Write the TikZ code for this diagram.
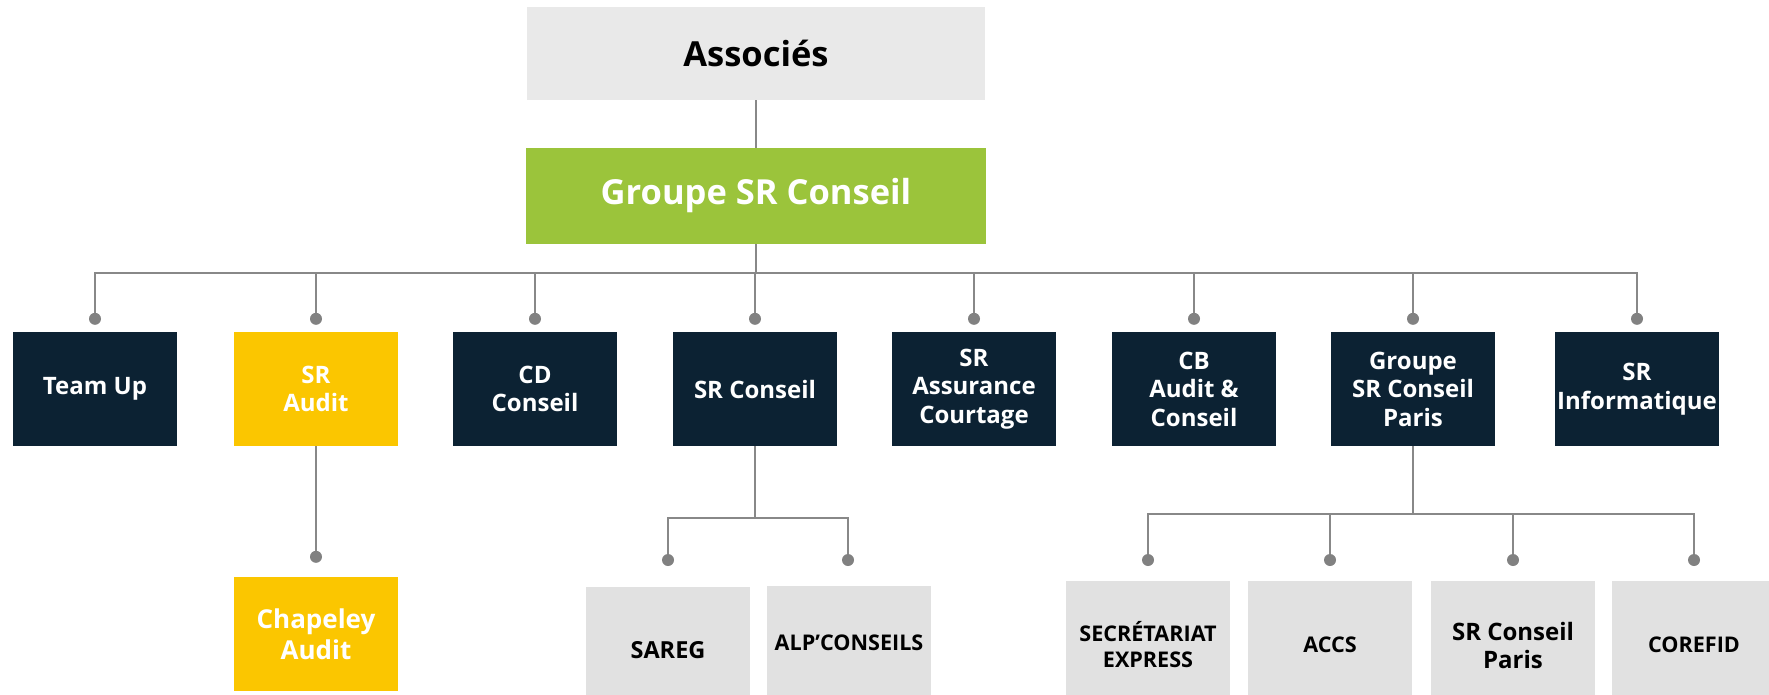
\documentclass[tikz,border=0pt]{standalone}
\usepackage{fontspec}
\setmainfont{Open Sans}
\definecolor{navy}{HTML}{0C2233}
\definecolor{sryellow}{HTML}{FBC600}
\definecolor{srgreen}{HTML}{9BC43B}
\definecolor{topgray}{HTML}{E9E9E9}
\definecolor{subgray}{HTML}{E1E1E1}
\definecolor{linegray}{HTML}{888888}
\definecolor{dotgray}{HTML}{818181}
\begin{document}
\begin{tikzpicture}[x=1pt,y=-1pt,
  box/.style={rectangle, inner sep=0pt, minimum width=164pt, minimum height=114pt, align=center,
    font=\bfseries\fontsize{24}{28.5}\selectfont},
  navybox/.style={box, fill=navy, text=white},
  yellowbox/.style={box, fill=sryellow, text=white},
  subbox/.style={box, fill=subgray, text=black, font=\bfseries\fontsize{21.6}{26}\selectfont},
  bigbox/.style={rectangle, inner sep=0pt, align=center, font=\bfseries\fontsize{34.5}{40}\selectfont},
  conn/.style={draw=linegray, line width=2.8pt},
  dot/.style={circle, fill=dotgray, inner sep=0pt, minimum size=12pt}]
\useasboundingbox (0,0) rectangle (1769,694);
\clip (0,0) rectangle (1769,694);

% top
\node[bigbox, fill=topgray, text=black, minimum width=458pt, minimum height=93pt] (assoc) at (756,53.5) {Associés};
\node[bigbox, fill=srgreen, text=white, minimum width=460pt, minimum height=96pt] (groupe) at (756,196) {Groupe SR Conseil};

% row 1
\node[navybox] (teamup) at (95,389) {Team Up};
\node[yellowbox] (sraudit) at (316,389) {SR\\Audit};
\node[navybox] (cdconseil) at (535,389) {CD\\Conseil};
\node[navybox] (srconseil) at (755,389) {SR Conseil};
\node[navybox] (srassur) at (974,389) {SR\\Assurance\\Courtage};
\node[navybox] (cbaudit) at (1194,389) {CB\\Audit \&\\Conseil};
\node[navybox] (gparis) at (1413,389) {Groupe\\SR Conseil\\Paris};
\node[navybox] (srinfo) at (1637,389) {SR\\Informatique};

% row 2
\node[yellowbox, font=\bfseries\fontsize{26}{31}\selectfont] (chapeley) at (316,634) {Chapeley\\Audit};
\node[subbox, minimum height=127pt, font=\bfseries\fontsize{23.5}{28}\selectfont] (sareg) at (668,650) {SAREG};
\node[subbox, minimum height=113pt] (alp) at (849,642.5) {ALP’CONSEILS};
\node[subbox, minimum height=128pt] (secret) at (1148,645) {SECRÉTARIAT\\EXPRESS};
\node[subbox, minimum height=128pt] (accs) at (1330,645) {ACCS};
\node[subbox, minimum height=128pt, font=\bfseries\fontsize{24}{28}\selectfont] (srcparis) at (1513,645) {SR Conseil\\Paris};
\node[subbox, minimum height=128pt] (corefid) at (1694,645) {COREFID};

% dots
\foreach \n in {teamup,sraudit,cdconseil,srconseil,srassur,cbaudit,gparis,srinfo}
  \node[dot] (dot-\n) at ([yshift=13pt]\n.north) {};
\node[dot] (dot-chapeley) at ([yshift=20pt]chapeley.north) {};
\node[dot] (dot-sareg) at (668,560) {};
\node[dot] (dot-alp) at (848,560) {};
\foreach \n in {secret,accs,srcparis,corefid}
  \node[dot] (dot-\n) at (\n.north |- 0,560) {};

% buses
\coordinate (bus) at (755,273);
\coordinate (busA) at (755,518);
\coordinate (busB) at (1413,514);

% connectors
\draw[conn] (assoc) -- (groupe);
\draw[conn] (groupe.south) -- (groupe.south |- bus);
\draw[conn] (dot-teamup) |- (bus) -| (dot-srinfo);
\foreach \n in {sraudit,cdconseil,srconseil,srassur,cbaudit,gparis}
  \draw[conn] (dot-\n |- bus) -- (dot-\n);
\draw[conn] (sraudit) -- (dot-chapeley);
\draw[conn] (srconseil.south) -- (busA);
\draw[conn] (dot-sareg) |- (busA) -| (dot-alp);
\draw[conn] (gparis.south) -- (busB);
\draw[conn] (dot-secret) |- (busB) -| (dot-corefid);
\draw[conn] (dot-accs |- busB) -- (dot-accs);
\draw[conn] (dot-srcparis |- busB) -- (dot-srcparis);
\end{tikzpicture}
\end{document}
